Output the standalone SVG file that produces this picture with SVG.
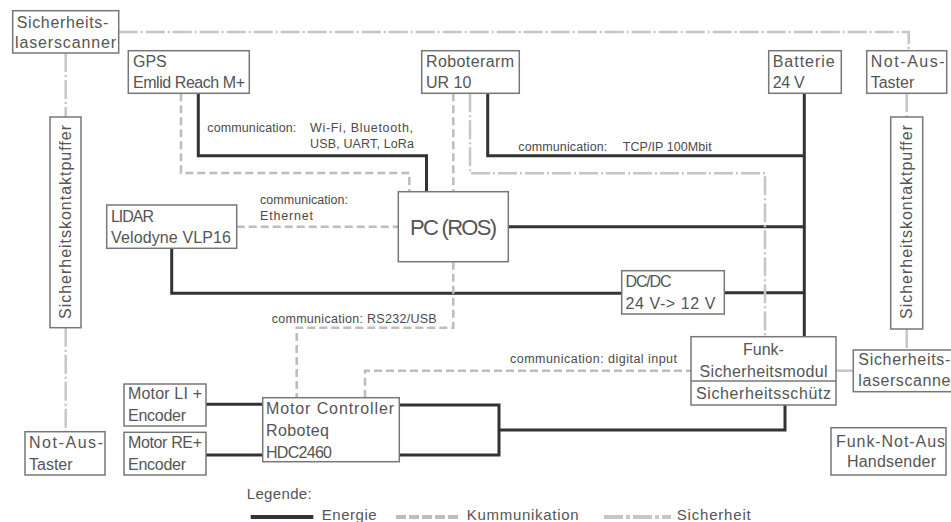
<svg xmlns="http://www.w3.org/2000/svg" width="951" height="522" viewBox="0 0 951 522">
<style>
text{font-family:"Liberation Sans","DejaVu Sans",sans-serif;fill:#555;font-size:16px}
.sm{font-size:12.5px;fill:#4a4a4a}
.lg{font-size:15px}
.box{fill:#fff;stroke:#777;stroke-width:1.5}
.en{fill:none;stroke:#333;stroke-width:3}
.co{fill:none;stroke:#bdbdbd;stroke-width:2.5;stroke-dasharray:8 4}
.sa{fill:none;stroke:#c6c6c6;stroke-width:2.5;stroke-dasharray:19 3 2 3}
.mid{text-anchor:middle}
</style>
<rect width="951" height="522" fill="#fff"/>
<g id="connectors">
<path class="en" d="M198.3,93.3 V155.7 H426.5 V191.7"/>
<path class="en" d="M487.7,93 V155.7 H804.3"/>
<path class="en" d="M804.3,93 V336.7"/>
<path class="en" d="M508.3,226.7 H804.3"/>
<path class="en" d="M171.7,248.3 V293.3 H621.7"/>
<path class="en" d="M724.3,292.7 H804.3"/>
<path class="en" d="M206,404.3 H262.7"/>
<path class="en" d="M206,455 H262.7"/>
<path class="en" d="M399.3,405 H499 V455 H399.3 M499,430 H785 V405"/>
<path class="co" d="M181,93.3 V173 H409.3 V191.7"/>
<path class="co" d="M453.3,93.3 V191.7"/>
<path class="co" d="M236.7,226.7 H398.3"/>
<path class="co" d="M453.3,261.7 V327.7 H296.7 V397.7"/>
<path class="co" d="M365,397.7 V370.7 H691"/>
<path class="sa" d="M118.7,32 H908.7 V50.7"/>
<path class="sa" d="M65.7,53 V117"/>
<path class="sa" d="M65.7,327.7 V431.7"/>
<path class="sa" d="M906.7,93.3 V117"/>
<path class="sa" d="M906.7,329 V350"/>
<path class="sa" d="M470,93.3 V173.3 H765 V336.7"/>
<path d="M836,370.7 H853.3" fill="none" stroke="#c6c6c6" stroke-width="2.5"/>
<text class="sm" x="207.3" y="131.7" textLength="89">communication:</text>
<text class="sm" x="310" y="131.7" textLength="103">Wi-Fi, Bluetooth,</text>
<text class="sm" x="310" y="148.3" textLength="104">USB, UART, LoRa</text>
<text class="sm" x="518.3" y="150.7" textLength="89">communication:</text>
<text class="sm" x="622.7" y="150.7" textLength="89">TCP/IP 100Mbit</text>
<text class="sm" x="260" y="204" textLength="88">communication:</text>
<text class="sm" x="260" y="220" textLength="53">Ethernet</text>
<text class="sm" x="271.7" y="322.7" textLength="165">communication: RS232/USB</text>
<text class="sm" x="510" y="363.3" textLength="167">communication: digital input</text>
</g>
<g id="laserscanner-top">
<rect class="box" x="12.7" y="10.7" width="106" height="42.3"/>
<text x="16.7" y="28.3" textLength="91.6">Sicherheits-</text>
<text x="15" y="48.3" textLength="101">laserscanner</text>
</g>
<g id="gps">
<rect class="box" x="128.3" y="50.7" width="121" height="42.6"/>
<text x="133" y="66.7">GPS</text>
<text x="133" y="88.3" textLength="112">Emlid Reach M+</text>
</g>
<g id="roboterarm">
<rect class="box" x="421.7" y="50.7" width="97.6" height="42.6"/>
<text x="426" y="66.7" textLength="88">Roboterarm</text>
<text x="426" y="88.3">UR 10</text>
</g>
<g id="batterie">
<rect class="box" x="768.7" y="50.7" width="72.6" height="42.6"/>
<text x="772.7" y="66.7" textLength="62">Batterie</text>
<text x="772.7" y="88.3" textLength="32">24 V</text>
</g>
<g id="notaus-top">
<rect class="box" x="866.7" y="50.7" width="80" height="42.6"/>
<text x="870.7" y="66.7" textLength="74">Not-Aus-</text>
<text x="870.7" y="88.3">Taster</text>
</g>
<g id="puffer-left">
<rect class="box" x="50" y="117" width="31" height="210.7"/>
<text class="mid" transform="translate(71,222) rotate(-90)" textLength="194">Sicherheitskontaktpuffer</text>
</g>
<g id="puffer-right">
<rect class="box" x="890.7" y="117" width="32" height="212"/>
<text class="mid" transform="translate(912,222) rotate(-90)" textLength="194">Sicherheitskontaktpuffer</text>
</g>
<g id="lidar">
<rect class="box" x="106.7" y="205" width="130" height="43.3"/>
<text x="111" y="221.7" textLength="43">LIDAR</text>
<text x="111" y="243.3" textLength="120">Velodyne VLP16</text>
</g>
<g id="pc">
<rect class="box" x="398.3" y="191.7" width="110" height="70"/>
<text x="410" y="235" style="font-size:22px" textLength="87">PC (ROS)</text>
</g>
<g id="dcdc">
<rect class="box" x="621.7" y="270.7" width="102.6" height="43.3"/>
<text x="625.5" y="287.3" textLength="46">DC/DC</text>
<text x="625.5" y="309.3" textLength="90">24 V-&gt; 12 V</text>
</g>
<g id="funk-modul">
<rect class="box" x="691" y="336.7" width="145" height="68.3"/>
<path d="M691,381 H836" stroke="#777" stroke-width="1.5"/>
<text class="mid" x="763.5" y="355">Funk-</text>
<text class="mid" x="763.5" y="376.7" textLength="128">Sicherheitsmodul</text>
<text class="mid" x="763.5" y="399" textLength="135">Sicherheitsschütz</text>
</g>
<g id="laserscanner-right">
<rect class="box" x="853.3" y="350" width="110" height="41.7"/>
<text x="858.3" y="365" textLength="92">Sicherheits-</text>
<text x="858.3" y="386" textLength="92">laserscanne</text>
</g>
<g id="motor-controller">
<rect class="box" x="262.7" y="397.7" width="136.6" height="64"/>
<text x="266" y="414.3" textLength="128">Motor Controller</text>
<text x="266" y="436" textLength="63">Roboteq</text>
<text x="266" y="457.7" textLength="66">HDC2460</text>
</g>
<g id="motor-li">
<rect class="box" x="124" y="384" width="82" height="42"/>
<text x="128" y="399.3" textLength="74">Motor LI +</text>
<text x="128" y="421" textLength="58">Encoder</text>
</g>
<g id="motor-re">
<rect class="box" x="124" y="432.3" width="82" height="42.7"/>
<text x="128" y="448.3" textLength="74">Motor RE+</text>
<text x="128" y="470" textLength="58">Encoder</text>
</g>
<g id="notaus-bottom">
<rect class="box" x="25" y="431.7" width="80" height="43.3"/>
<text x="29" y="448.3" textLength="74">Not-Aus-</text>
<text x="29" y="470">Taster</text>
</g>
<g id="funk-notaus">
<rect class="box" x="831" y="427.7" width="115" height="47.3"/>
<text class="mid" x="890.5" y="447.3" textLength="109">Funk-Not-Aus</text>
<text class="mid" x="891.5" y="466.5" textLength="89">Handsender</text>
</g>
<g id="legend">
<text class="lg" x="246.7" y="499.3" textLength="65">Legende:</text>
<path d="M250.7,517 H313.3" stroke="#333" stroke-width="4"/>
<text class="lg" x="321.7" y="520" textLength="55">Energie</text>
<path d="M396,517 H458.3" stroke="#bdbdbd" stroke-width="4" stroke-dasharray="10 3"/>
<text class="lg" x="466.7" y="520" textLength="112">Kummunikation</text>
<path d="M604,517 H671" stroke="#c6c6c6" stroke-width="4" stroke-dasharray="19 3 4 3"/>
<text class="lg" x="676.7" y="520" textLength="74">Sicherheit</text>
</g>
</svg>
